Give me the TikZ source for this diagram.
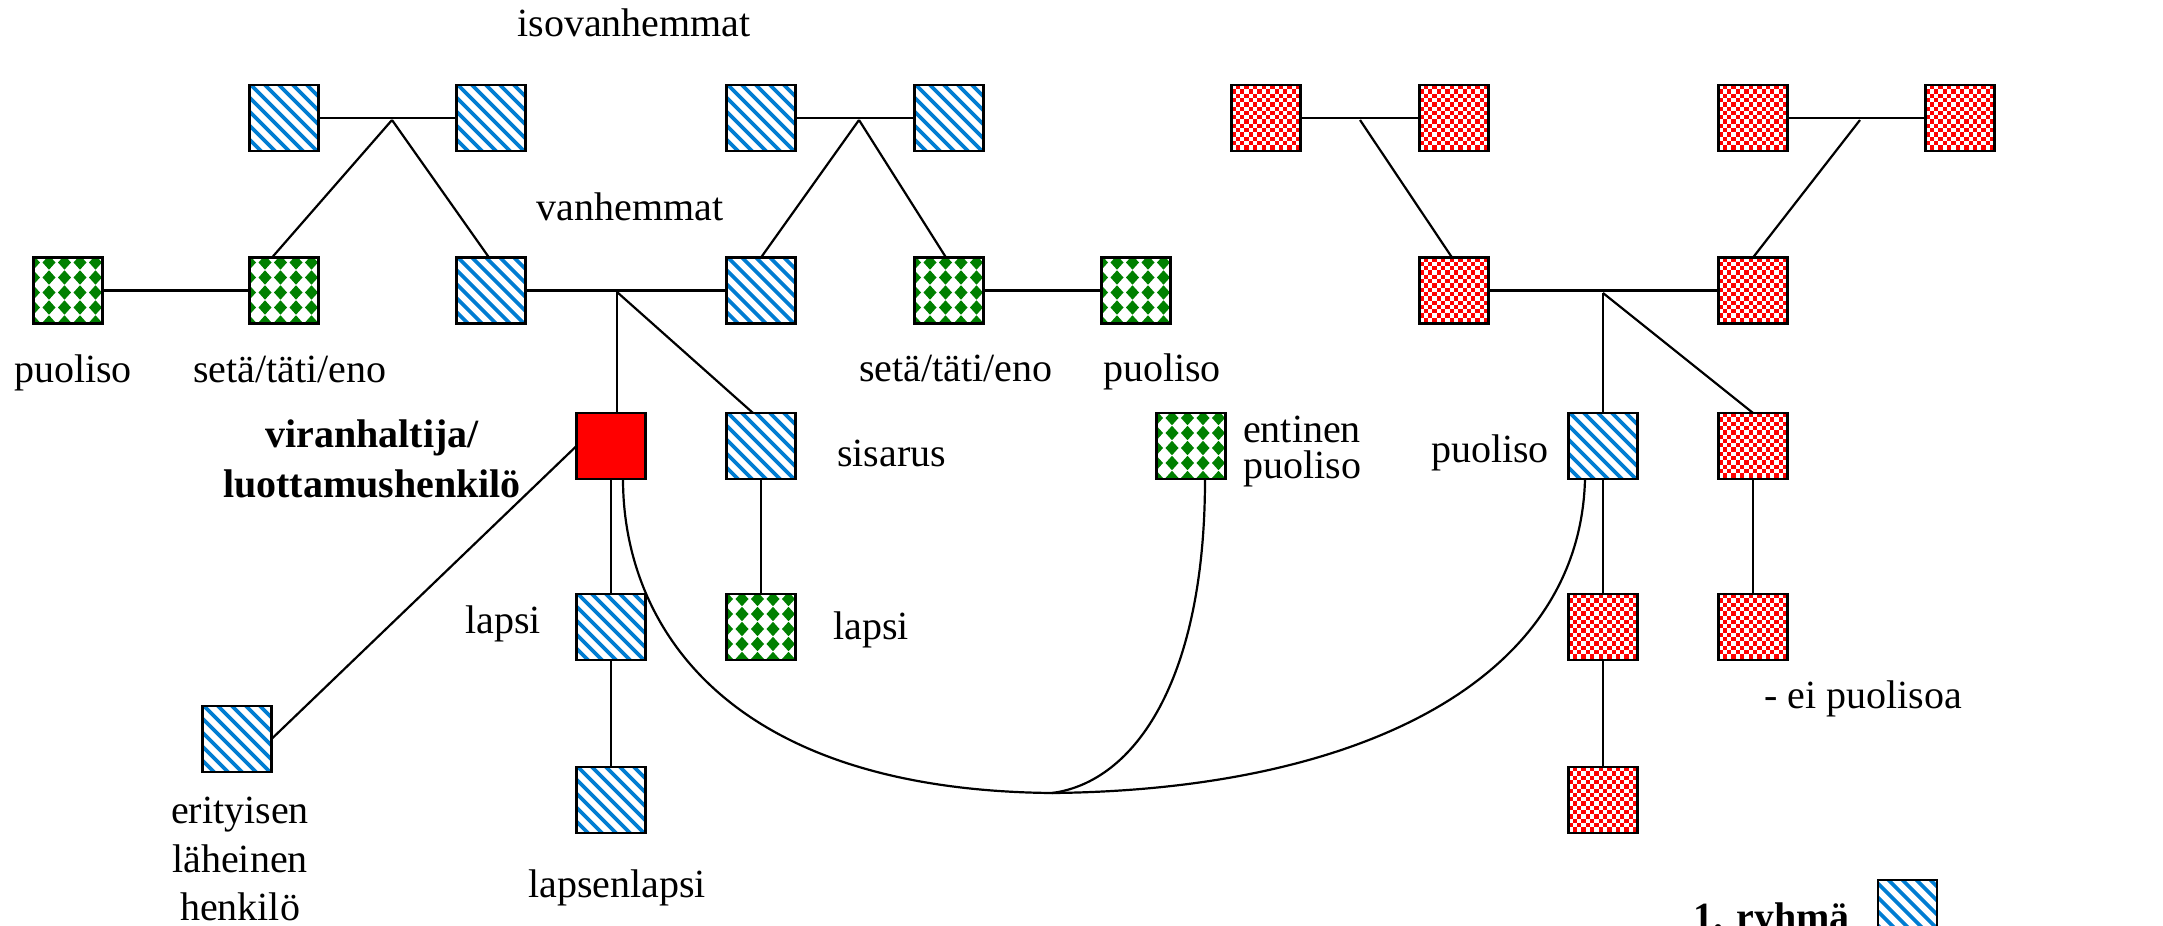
\documentclass[tikz,border=0pt]{standalone}
\usepackage{fontspec}
\setmainfont{Liberation Serif}
\usetikzlibrary{calc}
\definecolor{bluec}{RGB}{0,125,210}
\definecolor{greenc}{RGB}{0,128,0}
\definecolor{redc}{RGB}{255,0,0}
\tikzset{
  box/.style={rectangle, draw=black, line width=2.6pt, minimum width=69pt, minimum height=66pt, inner sep=0pt, outer sep=0pt, fill=white},
  bluebox/.style={box, path picture={
    \begin{scope}[shift={(path picture bounding box.center)}]
      \foreach \k in {-8,...,8} \draw[bluec, line width=3.6pt] (\k*14-45,-45) -- ++(90,90);
    \end{scope}}},
  greenbox/.style={box, path picture={
    \begin{scope}[shift={(path picture bounding box.center)}]
      \foreach \i in {0,...,4} \foreach \j in {0,...,4}
        \fill[greenc] (\i*15.5-41,\j*15-28) -- ++(6.5,-7.2) -- ++(6.5,7.2) -- ++(-6.5,7.2) -- cycle;
    \end{scope}}},
  redbox/.style={box, fill=redc, path picture={
    \begin{scope}[shift={(path picture bounding box.center)}]
      \foreach \j in {0,...,15} {
        \pgfmathtruncatemacro\off{mod(\j,2)}
        \foreach \i in {0,2,...,16} \fill[white] ({(\i+\off)*4.3-34.5},{\j*4.3-33}) rectangle ++(4.3,4.3);
      }
    \end{scope}}},
  mebox/.style={box, fill=redc},
  conn/.style={line width=2.2pt, black},
  txt/.style={font=\fontsize{40}{48}\selectfont, inner sep=0pt, anchor=base},
  btxt/.style={font=\fontsize{40}{48}\selectfont\bfseries, inner sep=0pt, anchor=base},
}
\begin{document}
\begin{tikzpicture}[x=1pt,y=-1pt]
\useasboundingbox (0,0) rectangle (2163,926);
% row 1
\node[bluebox] (g1) at (284,118) {};
\node[bluebox] (g2) at (491,118) {};
\node[bluebox] (g3) at (761,118) {};
\node[bluebox] (g4) at (949,118) {};
\node[redbox] (r1) at (1266,118) {};
\node[redbox] (r2) at (1454,118) {};
\node[redbox] (r3) at (1753,118) {};
\node[redbox] (r4) at (1960,118) {};
% row 2
\node[greenbox] (p1) at (68,290.5) {};
\node[greenbox] (u1) at (284,290.5) {};
\node[bluebox] (fa) at (491,290.5) {};
\node[bluebox] (mo) at (761,290.5) {};
\node[greenbox] (u2) at (949,290.5) {};
\node[greenbox] (p2) at (1136,290.5) {};
\node[redbox] (r5) at (1454,290.5) {};
\node[redbox] (r6) at (1753,290.5) {};
% row 3
\node[mebox] (me) at (611,446) {};
\node[bluebox] (sis) at (761,446) {};
\node[greenbox] (ex) at (1191,446) {};
\node[bluebox] (sp) at (1603,446) {};
\node[redbox] (r7) at (1753,446) {};
% row 4
\node[bluebox] (ch) at (611,627) {};
\node[greenbox] (nc) at (761,627) {};
\node[redbox] (r8) at (1603,627) {};
\node[redbox] (r9) at (1753,627) {};
% row 5
\node[bluebox] (er) at (237,739) {};
\node[bluebox] (gc) at (611,800) {};
\node[redbox] (r10) at (1603,800) {};
% legend
\node[bluebox, minimum width=59pt] (lg) at (1907.5,913) {};

% connectors
\coordinate (jA) at (392,120);
\coordinate (jB) at (859,120);
\coordinate (jC) at (1360,120);
\coordinate (jD) at (1860,120);
\coordinate (jE) at (617,292);
\coordinate (jF) at (1603,293);
\coordinate (jG) at (1052,793);
\draw[conn] (g1) -- (g2);
\draw[conn] (jA) -- ([xshift=-12pt]u1.north);
\draw[conn] (jA) -- ([xshift=-2pt]fa.north);
\draw[conn] (g3) -- (g4);
\draw[conn] (jB) -- (mo.north);
\draw[conn] (jB) -- ([xshift=-3pt]u2.north);
\draw[conn] (r1) -- (r2);
\draw[conn] (jC) -- ([xshift=-2pt]r5.north);
\draw[conn] (r3) -- (r4);
\draw[conn] (jD) -- (r6.north);
\draw[conn] (p1) -- (u1);
\draw[conn] (fa) -- (mo);
\draw[conn] (u2) -- (p2);
\draw[conn] (r5) -- (r6);
\draw[conn] (jE) -- ([xshift=6pt]me.north);
\draw[conn] (jE) -- ([xshift=-8pt]sis.north);
\draw[conn] (jF) -- (sp.north);
\draw[conn] (jF) -- (r7.north);
\draw[conn] (sis) -- (nc);
\draw[conn] (me) -- (ch);
\draw[conn] (ch) -- (gc);
\draw[conn] (sp) -- (r8);
\draw[conn] (r8) -- (r10);
\draw[conn] (r7) -- (r9);
\draw[conn] (me.west) -- (er.east);
\draw[conn] ([xshift=12pt]me.south) .. controls (623,620) and (720,790) .. (jG);
\draw[conn] ([xshift=-18pt]sp.south) .. controls (1580,680) and (1360,790) .. (jG);
\draw[conn] ([xshift=14pt]ex.south) .. controls (1205,680) and (1135,782) .. (jG);

% texts
\node[txt] (t1) at (634,36) {isovanhemmat};
\node[txt] (t2) at (630,220) {vanhemmat};
\node[txt] (t3) at (73,382) {puoliso};
\node[txt] (t4) at (290,382) {setä/täti/eno};
\node[txt] (t5) at (956,381) {setä/täti/eno};
\node[txt] (t6) at (1162,381) {puoliso};
\node[btxt] (t7) at (372,447) {viranhaltija/};
\node[btxt] (t8) at (372,497) {luottamushenkilö};
\node[txt, anchor=base west] (t9) at (837,466) {sisarus};
\node[txt, anchor=base west] (t10) at (1243,442) {entinen};
\node[txt, anchor=base west] (t11) at (1243,478) {puoliso};
\node[txt] (t12) at (1490,462) {puoliso};
\node[txt] (t13) at (503,633) {lapsi};
\node[txt] (t14) at (871,639) {lapsi};
\node[txt] (t15) at (240,823) {erityisen};
\node[txt] (t16) at (240,872) {läheinen};
\node[txt] (t17) at (240,920) {henkilö};
\node[txt] (t18) at (617,897) {lapsenlapsi};
\node[txt, anchor=base west] (t19) at (1764,708) {- ei puolisoa};
\node[btxt, anchor=base west] (t20) at (1693,930) {1. ryhmä};
\end{tikzpicture}
\end{document}
